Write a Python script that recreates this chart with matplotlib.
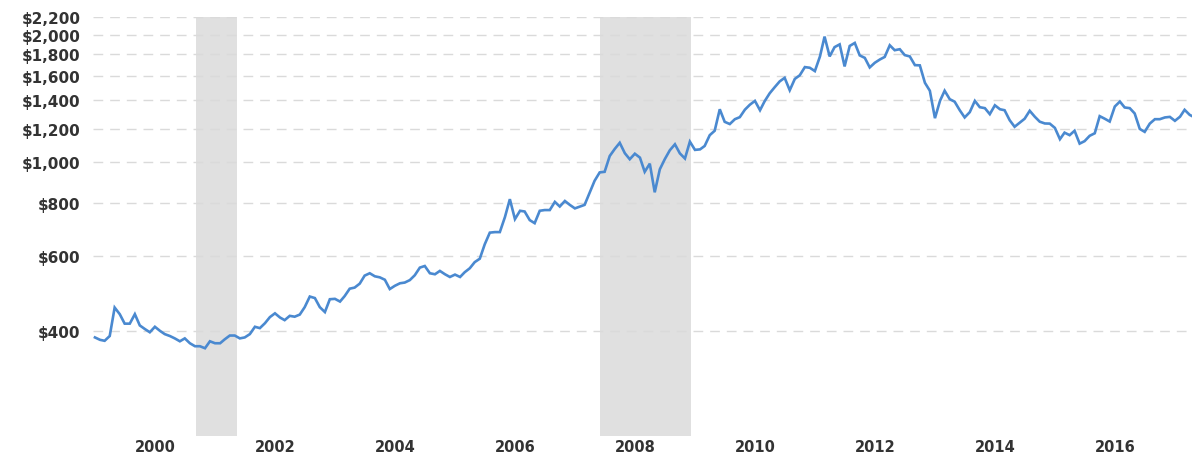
import matplotlib
matplotlib.use("Agg")
import matplotlib.pyplot as plt
import matplotlib.ticker as mticker
import pandas as pd

# Monthly inflation-adjusted gold price (USD/oz), Jan 1999 onward
start_month = "1999-01-01"
prices = [
    386, 381, 379, 389, 454, 438, 416, 416, 438, 412,
    404, 397, 409, 400, 393, 389, 384, 378, 384, 374,
    368, 368, 364, 378, 374, 374, 382, 390, 390, 384,
    386, 393, 409, 406, 417, 431, 440, 430, 424, 434,
    432, 437, 455, 482, 478, 455, 443, 475, 476, 469,
    483, 503, 506, 517, 540, 547, 538, 535, 528, 502,
    511, 518, 520, 527, 541, 564, 569, 547, 544, 554,
    544, 536, 543, 536, 550, 562, 581, 592, 640, 682,
    684, 684, 742, 818, 734, 768, 765, 730, 718, 768,
    771, 771, 806, 786, 810, 793, 778, 786, 793, 847,
    904, 946, 949, 1034, 1075, 1111, 1050, 1016, 1047, 1025,
    949, 992, 849, 962, 1016, 1067, 1102, 1049, 1020, 1118,
    1069, 1072, 1092, 1158, 1186, 1333, 1245, 1230, 1263, 1277,
    1330, 1366, 1395, 1326, 1392, 1454, 1502, 1551, 1581, 1478,
    1572, 1603, 1676, 1670, 1640, 1776, 1978, 1776, 1868, 1896,
    1682, 1880, 1911, 1786, 1762, 1673, 1716, 1747, 1771, 1887,
    1837, 1847, 1789, 1776, 1694, 1692, 1539, 1474, 1270, 1396,
    1474, 1408, 1389, 1326, 1275, 1312, 1395, 1348, 1341, 1298,
    1362, 1333, 1326, 1256, 1212, 1239, 1266, 1322, 1280, 1246,
    1234, 1233, 1205, 1133, 1174, 1158, 1186, 1106, 1121, 1154,
    1170, 1284, 1266, 1247, 1353, 1390, 1346, 1341, 1303, 1198,
    1179, 1233, 1263, 1263, 1275, 1279, 1252, 1280, 1329, 1293,
    1275,
]
recession_starts = ["2000-09-10", "2007-06-01"]
recession_ends = ["2001-05-15", "2008-12-05"]
y_ticks = [400, 600, 800, 1000, 1200, 1400, 1600, 1800, 2000, 2200]
x_tick_years = [2000, 2002, 2004, 2006, 2008, 2010, 2012, 2014, 2016]

dates = pd.date_range(start_month, periods=len(prices), freq="MS")

fig = plt.figure(figsize=(11.92, 4.56), dpi=100)
ax = fig.add_axes([0.078, 0.0417, 0.922, 0.9188])

for s, e in zip(recession_starts, recession_ends):
    ax.axvspan(pd.Timestamp(s), pd.Timestamp(e), color="#e0e0e0", lw=0, zorder=0)

ax.plot(dates, prices, color="#4a89d0", lw=1.9, zorder=3, solid_joinstyle="miter")

ax.set_yscale("log")
ax.set_ylim(226, 2200)
ax.set_xlim(pd.Timestamp("1998-12-20"), pd.Timestamp("2017-04-15"))

ax.yaxis.set_major_locator(mticker.FixedLocator(y_ticks))
ax.yaxis.set_minor_locator(mticker.NullLocator())
ax.yaxis.set_major_formatter(mticker.FuncFormatter(lambda v, p: f"${v:,.0f}"))
ax.set_xticks([pd.Timestamp(f"{y}-01-01") for y in x_tick_years])
ax.set_xticklabels([str(y) for y in x_tick_years])

ax.grid(axis="y", color="#dadada", linestyle=(0, (7, 5)), lw=1.0, zorder=1)
ax.set_axisbelow(True)
for sp in ax.spines.values():
    sp.set_visible(False)
ax.tick_params(axis="both", length=0, labelsize=11, labelcolor="#333333")
ax.tick_params(axis="y", pad=9)
ax.tick_params(axis="x", pad=2, labelsize=10.5)
for lab in ax.get_xticklabels() + ax.get_yticklabels():
    lab.set_fontweight("bold")

fig.savefig("out.png", dpi=100)
